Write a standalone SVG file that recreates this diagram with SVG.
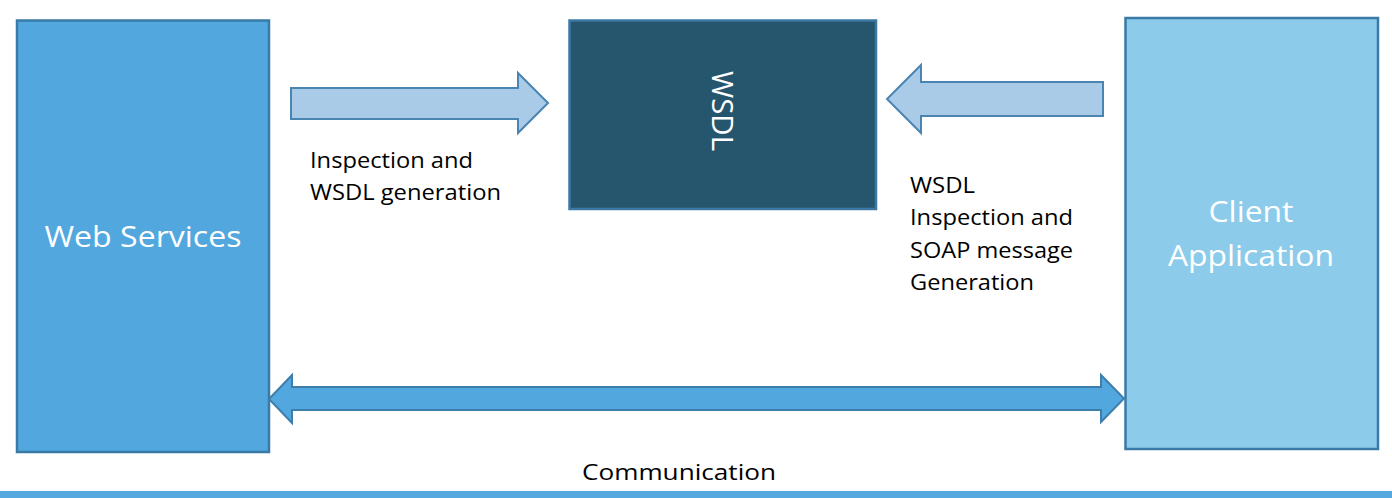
<svg xmlns="http://www.w3.org/2000/svg" width="1392" height="498" viewBox="0 0 1392 498">
<style>
text{font-family:"Open Sans","Liberation Sans",sans-serif;}
.lbl{font-size:22px;fill:#000;}
.wt{fill:#fff;font-size:29px;text-anchor:middle;}
.box{stroke-width:2.5;}
.la{fill:#a9cbe8;stroke:#4a84b0;stroke-width:2;}
.da{fill:#52a8de;stroke:#3e7eab;stroke-width:2;}
</style>
<rect x="0" y="0" width="1392" height="498" fill="#fff"/>
<g id="web-services">
<rect class="box" x="17" y="20.5" width="252" height="431.5" fill="#52a8de" stroke="#3a7aa6"/>
<text class="wt" x="143" y="247" textLength="197" lengthAdjust="spacingAndGlyphs">Web Services</text>
</g>
<g id="wsdl">
<rect class="box" x="569.5" y="20.5" width="306.5" height="188.5" fill="#26566e" stroke="#3b78a3"/>
<text class="wt" transform="translate(712,111) rotate(90)" x="0" y="0" textLength="80" lengthAdjust="spacingAndGlyphs">WSDL</text>
</g>
<g id="client-application">
<rect class="box" x="1125.5" y="18" width="252.5" height="431" fill="#8ccbea" stroke="#3a7aa6"/>
<text class="wt" x="1251" y="222" textLength="85" lengthAdjust="spacingAndGlyphs">Client</text>
<text class="wt" x="1251" y="266" textLength="166" lengthAdjust="spacingAndGlyphs">Application</text>
</g>
<g id="connectors">
<polygon class="la" points="291,88 518,88 518,73 548,103 518,133 518,119 291,119"/>
<polygon class="la" points="1103,82 921,82 921,65 887,99 921,133 921,116 1103,116"/>
<polygon class="da" points="269,399 292,375 292,387 1101,387 1101,375 1124,398.5 1101,422 1101,410 292,410 292,423"/>
</g>
<g id="labels">
<text class="lbl" x="310" y="168" textLength="163" lengthAdjust="spacingAndGlyphs">Inspection and</text>
<text class="lbl" x="310" y="200" textLength="191" lengthAdjust="spacingAndGlyphs">WSDL generation</text>
<text class="lbl" x="910" y="193" textLength="65" lengthAdjust="spacingAndGlyphs">WSDL</text>
<text class="lbl" x="910" y="225" textLength="163" lengthAdjust="spacingAndGlyphs">Inspection and</text>
<text class="lbl" x="910" y="258" textLength="163" lengthAdjust="spacingAndGlyphs">SOAP message</text>
<text class="lbl" x="910" y="290" textLength="124" lengthAdjust="spacingAndGlyphs">Generation</text>
<text class="lbl" x="679" y="480" text-anchor="middle" textLength="194" lengthAdjust="spacingAndGlyphs">Communication</text>
</g>
<rect id="bottom-bar" x="0" y="491" width="1392" height="7" fill="#55a9de"/>
</svg>
